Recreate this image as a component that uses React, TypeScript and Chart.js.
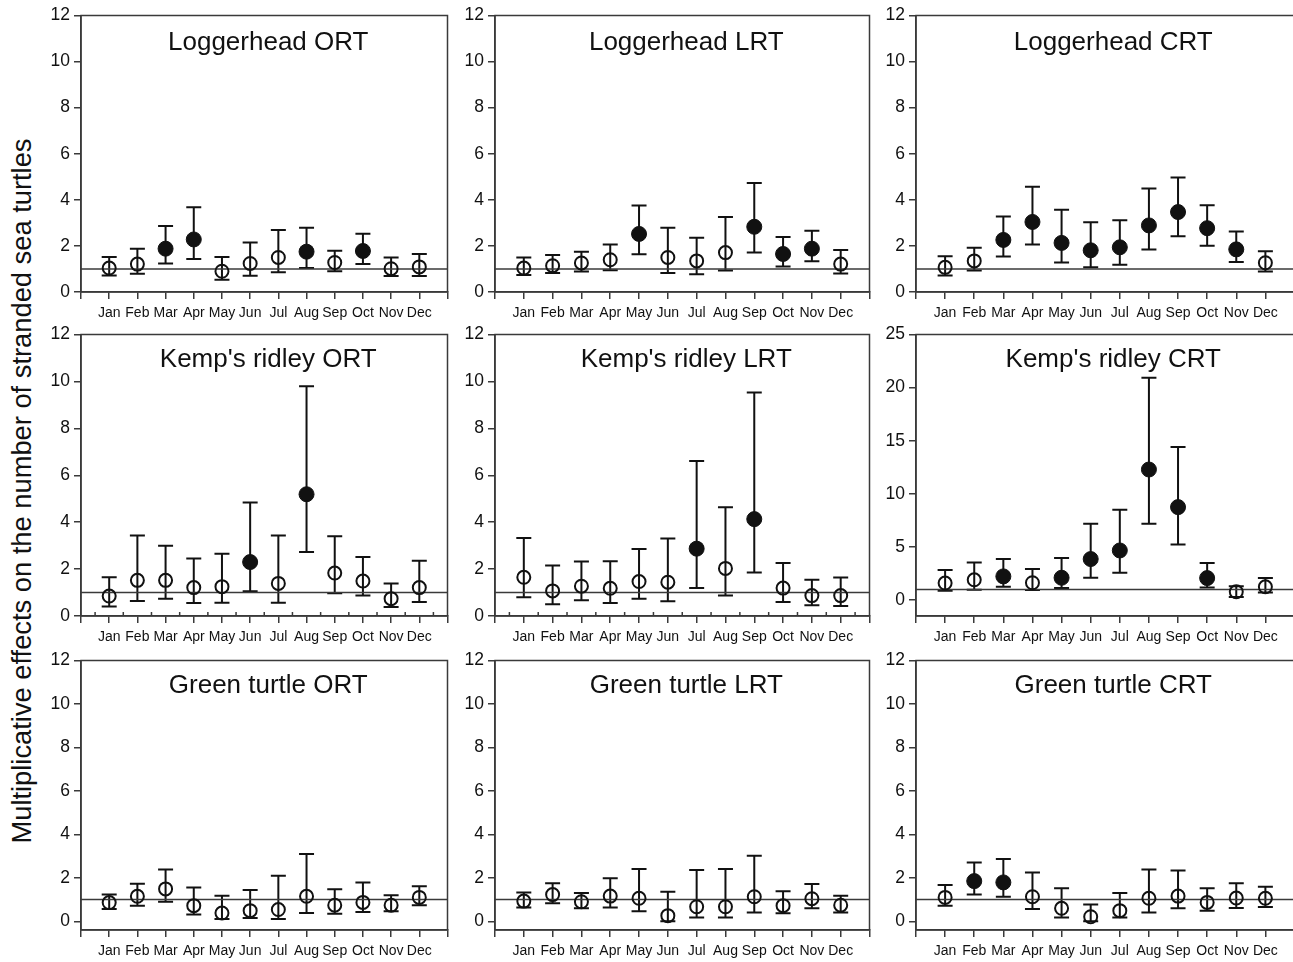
import React, { useEffect, useRef } from "react";
import { Chart, registerables } from "chart.js";

Chart.register(...registerables);

// ---------- data ----------
const MONTHS = ["Jan", "Feb", "Mar", "Apr", "May", "Jun", "Jul", "Aug", "Sep", "Oct", "Nov", "Dec"];
const NULL_EFFECT = 1;
const Y_TITLE = "Multiplicative effects on the number of stranded sea turtles";
const Y_TICKS_12 = [0, 2, 4, 6, 8, 10, 12];
const Y_TICKS_25 = [0, 5, 10, 15, 20, 25];

const LOG_ORT_MEAN = [1.04, 1.21, 1.88, 2.28, 0.9, 1.24, 1.5, 1.75, 1.28, 1.78, 1.01, 1.09];
const LOG_ORT_LOW = [0.72, 0.79, 1.24, 1.43, 0.53, 0.7, 0.86, 1.04, 0.9, 1.21, 0.69, 0.69];
const LOG_ORT_HIGH = [1.52, 1.88, 2.86, 3.68, 1.52, 2.15, 2.69, 2.79, 1.79, 2.53, 1.5, 1.65];
const LOG_ORT_SIG = [0, 0, 1, 1, 0, 0, 0, 1, 0, 1, 0, 0];

const LOG_LRT_MEAN = [1.04, 1.14, 1.26, 1.4, 2.52, 1.5, 1.35, 1.71, 2.83, 1.65, 1.88, 1.21];
const LOG_LRT_LOW = [0.74, 0.82, 0.89, 0.94, 1.64, 0.83, 0.77, 0.93, 1.71, 1.11, 1.33, 0.8];
const LOG_LRT_HIGH = [1.5, 1.61, 1.75, 2.06, 3.75, 2.79, 2.35, 3.26, 4.73, 2.39, 2.66, 1.82];
const LOG_LRT_SIG = [0, 0, 0, 0, 1, 0, 0, 0, 1, 1, 1, 0];

const LOG_CRT_MEAN = [1.07, 1.35, 2.26, 3.04, 2.13, 1.81, 1.94, 2.89, 3.47, 2.77, 1.85, 1.27];
const LOG_CRT_LOW = [0.72, 0.93, 1.54, 2.06, 1.28, 1.07, 1.18, 1.84, 2.42, 2.01, 1.3, 0.89];
const LOG_CRT_HIGH = [1.55, 1.92, 3.28, 4.57, 3.57, 3.03, 3.11, 4.49, 4.97, 3.77, 2.63, 1.77];
const LOG_CRT_SIG = [0, 0, 1, 1, 1, 1, 1, 1, 1, 1, 1, 0];

const KEMP_ORT_MEAN = [0.85, 1.52, 1.52, 1.21, 1.25, 2.3, 1.39, 5.19, 1.83, 1.49, 0.74, 1.21];
const KEMP_ORT_LOW = [0.4, 0.64, 0.74, 0.55, 0.57, 1.05, 0.57, 2.73, 0.97, 0.87, 0.38, 0.6];
const KEMP_ORT_HIGH = [1.65, 3.43, 3.0, 2.45, 2.65, 4.84, 3.43, 9.79, 3.4, 2.52, 1.39, 2.35];
const KEMP_ORT_SIG = [0, 0, 0, 0, 0, 1, 0, 1, 0, 0, 0, 0];

const KEMP_LRT_MEAN = [1.65, 1.07, 1.27, 1.18, 1.47, 1.44, 2.87, 2.03, 4.13, 1.19, 0.87, 0.87];
const KEMP_LRT_LOW = [0.8, 0.5, 0.67, 0.55, 0.74, 0.63, 1.19, 0.87, 1.85, 0.6, 0.46, 0.43];
const KEMP_LRT_HIGH = [3.33, 2.15, 2.32, 2.33, 2.86, 3.3, 6.61, 4.64, 9.53, 2.26, 1.54, 1.64];
const KEMP_LRT_SIG = [0, 0, 0, 0, 0, 0, 1, 0, 1, 0, 0, 0];

const KEMP_CRT_MEAN = [1.6, 1.91, 2.23, 1.63, 2.1, 3.86, 4.67, 12.29, 8.75, 2.07, 0.78, 1.25];
const KEMP_CRT_LOW = [0.88, 0.97, 1.25, 0.94, 1.13, 2.1, 2.57, 7.18, 5.24, 1.19, 0.28, 0.72];
const KEMP_CRT_HIGH = [2.82, 3.54, 3.86, 2.92, 3.95, 7.18, 8.5, 20.94, 14.42, 3.48, 1.29, 2.07];
const KEMP_CRT_SIG = [0, 0, 1, 0, 1, 1, 1, 1, 1, 1, 0, 0];

const GREEN_ORT_MEAN = [0.86, 1.15, 1.49, 0.72, 0.38, 0.49, 0.54, 1.15, 0.74, 0.87, 0.74, 1.1];
const GREEN_ORT_LOW = [0.57, 0.72, 0.9, 0.31, 0.11, 0.15, 0.11, 0.38, 0.35, 0.43, 0.46, 0.74];
const GREEN_ORT_HIGH = [1.23, 1.73, 2.38, 1.55, 1.18, 1.44, 2.1, 3.1, 1.47, 1.78, 1.2, 1.61];
const GREEN_ORT_SIG = [0, 0, 0, 0, 0, 0, 0, 0, 0, 0, 0, 0];

const GREEN_LRT_MEAN = [0.93, 1.23, 0.9, 1.16, 1.06, 0.26, 0.67, 0.67, 1.13, 0.72, 1.04, 0.74];
const GREEN_LRT_LOW = [0.64, 0.83, 0.6, 0.64, 0.46, 0.0, 0.17, 0.18, 0.4, 0.37, 0.6, 0.41];
const GREEN_LRT_HIGH = [1.33, 1.75, 1.3, 1.98, 2.41, 1.36, 2.36, 2.41, 3.02, 1.38, 1.72, 1.18];
const GREEN_LRT_SIG = [0, 0, 0, 0, 0, 0, 0, 0, 0, 0, 0, 0];

const GREEN_CRT_MEAN = [1.1, 1.85, 1.79, 1.13, 0.6, 0.21, 0.49, 1.06, 1.16, 0.87, 1.07, 1.06];
const GREEN_CRT_LOW = [0.72, 1.23, 1.13, 0.57, 0.18, 0.0, 0.17, 0.41, 0.6, 0.48, 0.61, 0.66];
const GREEN_CRT_HIGH = [1.67, 2.71, 2.87, 2.25, 1.52, 0.77, 1.3, 2.38, 2.34, 1.52, 1.75, 1.59];
const GREEN_CRT_SIG = [0, 1, 1, 0, 0, 0, 0, 0, 0, 0, 0, 0];

type Panel = {
  title: string;
  mean: number[];
  low: number[];
  high: number[];
  sig: number[];
  yMin: number;
  yMax: number;
  yTicks: number[];
  row: number;
  col: number;
  minorTicks: boolean;
};

const PANELS: Panel[] = [
  { title: "Loggerhead ORT", mean: LOG_ORT_MEAN, low: LOG_ORT_LOW, high: LOG_ORT_HIGH, sig: LOG_ORT_SIG, yMin: 0, yMax: 12, yTicks: Y_TICKS_12, row: 0, col: 0, minorTicks: false },
  { title: "Loggerhead LRT", mean: LOG_LRT_MEAN, low: LOG_LRT_LOW, high: LOG_LRT_HIGH, sig: LOG_LRT_SIG, yMin: 0, yMax: 12, yTicks: Y_TICKS_12, row: 0, col: 1, minorTicks: false },
  { title: "Loggerhead CRT", mean: LOG_CRT_MEAN, low: LOG_CRT_LOW, high: LOG_CRT_HIGH, sig: LOG_CRT_SIG, yMin: 0, yMax: 12, yTicks: Y_TICKS_12, row: 0, col: 2, minorTicks: false },
  { title: "Kemp's ridley ORT", mean: KEMP_ORT_MEAN, low: KEMP_ORT_LOW, high: KEMP_ORT_HIGH, sig: KEMP_ORT_SIG, yMin: 0, yMax: 12, yTicks: Y_TICKS_12, row: 1, col: 0, minorTicks: true },
  { title: "Kemp's ridley LRT", mean: KEMP_LRT_MEAN, low: KEMP_LRT_LOW, high: KEMP_LRT_HIGH, sig: KEMP_LRT_SIG, yMin: 0, yMax: 12, yTicks: Y_TICKS_12, row: 1, col: 1, minorTicks: true },
  { title: "Kemp's ridley CRT", mean: KEMP_CRT_MEAN, low: KEMP_CRT_LOW, high: KEMP_CRT_HIGH, sig: KEMP_CRT_SIG, yMin: -1.5, yMax: 25, yTicks: Y_TICKS_25, row: 1, col: 2, minorTicks: false },
  { title: "Green turtle ORT", mean: GREEN_ORT_MEAN, low: GREEN_ORT_LOW, high: GREEN_ORT_HIGH, sig: GREEN_ORT_SIG, yMin: -0.4, yMax: 12, yTicks: Y_TICKS_12, row: 2, col: 0, minorTicks: false },
  { title: "Green turtle LRT", mean: GREEN_LRT_MEAN, low: GREEN_LRT_LOW, high: GREEN_LRT_HIGH, sig: GREEN_LRT_SIG, yMin: -0.4, yMax: 12, yTicks: Y_TICKS_12, row: 2, col: 1, minorTicks: false },
  { title: "Green turtle CRT", mean: GREEN_CRT_MEAN, low: GREEN_CRT_LOW, high: GREEN_CRT_HIGH, sig: GREEN_CRT_SIG, yMin: -0.4, yMax: 12, yTicks: Y_TICKS_12, row: 2, col: 2, minorTicks: false },
];

// ---------- layout ----------
const ROW_TOP = [15, 334, 660];
const ROW_BOTTOM = [292, 616, 930];
const COL_LEFT = [81, 495, 916];
const COL_RIGHT = [450, 872, 1297];
const TITLE_BASELINE = [34, 32, 32];
const TITLE_SHIFT = [4, 4, 8];
const Y_AXIS_W = 42;
const X_AXIS_H = 40;
const PAD_TOP = 14;
const PAD_RIGHT = 6;
const FONT = "'Liberation Sans', Arial, Helvetica, sans-serif";
const INK = "#111111";
const AXIS = "#3a3a3a";

function PanelChart({ p }: { p: Panel }) {
  const ref = useRef<HTMLCanvasElement | null>(null);
  const left = COL_LEFT[p.col] - Y_AXIS_W;
  const top = ROW_TOP[p.row] - PAD_TOP;
  const W = COL_RIGHT[p.col] - COL_LEFT[p.col] + Y_AXIS_W + PAD_RIGHT;
  const H = ROW_BOTTOM[p.row] - ROW_TOP[p.row] + PAD_TOP + X_AXIS_H;

  useEffect(() => {
    const canvas = ref.current;
    if (!canvas) return;

    const errorBars = {
      id: "errorBars",
      beforeDatasetsDraw(chart: any) {
        const { ctx, scales } = chart;
        const xs = scales.x;
        const ys = scales.y;
        ctx.save();
        ctx.strokeStyle = INK;
        ctx.lineWidth = 2;
        p.mean.forEach((_, i) => {
          const px = xs.getPixelForValue(i + 1);
          const lo = ys.getPixelForValue(p.low[i]);
          const hi = ys.getPixelForValue(p.high[i]);
          ctx.beginPath();
          ctx.moveTo(px, lo);
          ctx.lineTo(px, hi);
          ctx.moveTo(px - 7.5, lo);
          ctx.lineTo(px + 7.5, lo);
          ctx.moveTo(px - 7.5, hi);
          ctx.lineTo(px + 7.5, hi);
          ctx.stroke();
        });
        ctx.restore();
      },
    };

    const frameAndTitle = {
      id: "frameAndTitle",
      afterDraw(chart: any) {
        const { ctx, chartArea, scales } = chart;
        const { left: l, top: t, right: r, bottom: b } = chartArea;
        ctx.save();
        ctx.strokeStyle = AXIS;
        ctx.lineWidth = 1.5;
        ctx.strokeRect(l, t, r - l, b - t);
        if (p.minorTicks) {
          ctx.beginPath();
          for (let k = 0; k <= MONTHS.length; k++) {
            const px = scales.x.getPixelForValue(k + 0.5);
            ctx.moveTo(px, b);
            ctx.lineTo(px, b - 4);
          }
          ctx.stroke();
        }
        ctx.fillStyle = INK;
        ctx.font = `26px ${FONT}`;
        ctx.textAlign = "center";
        ctx.textBaseline = "alphabetic";
        ctx.fillText(p.title, (l + r) / 2 + TITLE_SHIFT[p.col], t + TITLE_BASELINE[p.row]);
        ctx.restore();
      },
    };

    const chart = new Chart(canvas, {
      type: "scatter",
      data: {
        datasets: [
          {
            data: p.mean.map((m, i) => ({ x: i + 1, y: m })),
            showLine: false,
            pointRadius: p.sig.map((s) => (s ? 7.5 : 6.5)),
            pointBackgroundColor: p.sig.map((s) => (s ? INK : "rgba(0,0,0,0)")),
            pointBorderColor: INK,
            pointBorderWidth: p.sig.map((s) => (s ? 1 : 2)),
          },
          {
            data: [
              { x: 0, y: NULL_EFFECT },
              { x: MONTHS.length + 1, y: NULL_EFFECT },
            ],
            showLine: true,
            borderColor: AXIS,
            borderWidth: 1.4,
            pointRadius: 0,
          },
        ],
      } as any,
      options: {
        animation: false,
        responsive: false,
        maintainAspectRatio: false,
        events: [],
        layout: { padding: { left: 0, right: PAD_RIGHT, top: PAD_TOP, bottom: 0 } },
        plugins: { legend: { display: false }, tooltip: { enabled: false }, title: { display: false } },
        scales: {
          x: {
            type: "linear",
            min: 0,
            max: MONTHS.length + 1,
            ticks: {
              stepSize: 1,
              autoSkip: false,
              maxRotation: 0,
              padding: 6,
              color: INK,
              font: { family: FONT, size: 14 },
              callback: (v: any) => MONTHS[Number(v) - 1] ?? "",
            },
            grid: { drawOnChartArea: false, drawTicks: true, tickLength: 7, color: AXIS, lineWidth: 1.5 },
            border: { color: AXIS, width: 1.5 },
            afterFit: (s: any) => {
              s.height = X_AXIS_H;
            },
          },
          y: {
            type: "linear",
            min: p.yMin,
            max: p.yMax,
            afterBuildTicks: (s: any) => {
              s.ticks = p.yTicks.map((v) => ({ value: v }));
            },
            ticks: { padding: 4, color: INK, font: { family: FONT, size: 17.5 } },
            grid: { drawOnChartArea: false, drawTicks: true, tickLength: 7, color: AXIS, lineWidth: 1.5 },
            border: { color: AXIS, width: 1.5 },
            afterFit: (s: any) => {
              s.width = Y_AXIS_W;
            },
          },
        },
      } as any,
      plugins: [errorBars, frameAndTitle],
    });
    return () => chart.destroy();
  }, [p]);

  return (
    <canvas
      ref={ref}
      width={W}
      height={H}
      style={{ position: "absolute", left, top, width: W, height: H }}
    />
  );
}

export default function App() {
  return (
    <div
      style={{
        position: "absolute",
        left: 0,
        top: 0,
        width: 1293,
        height: 962,
        overflow: "hidden",
        background: "#ffffff",
      }}
    >
      {PANELS.map((p) => (
        <PanelChart key={p.title} p={p} />
      ))}
      <div
        style={{
          position: "absolute",
          left: 22 - 450,
          top: 491 - 16,
          width: 900,
          height: 32,
          lineHeight: "32px",
          textAlign: "center",
          transform: "rotate(-90deg)",
          fontFamily: FONT,
          fontSize: 27.3,
          color: INK,
          whiteSpace: "nowrap",
        }}
      >
        {Y_TITLE}
      </div>
    </div>
  );
}
